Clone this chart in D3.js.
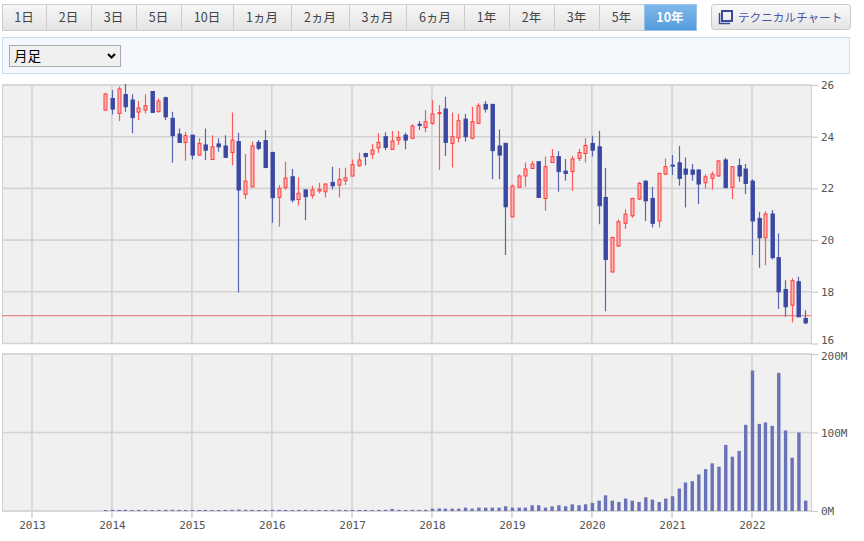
<!DOCTYPE html>
<html><head><meta charset="utf-8">
<script src="https://cdn.jsdelivr.net/npm/d3@7"></script>
<style>body{margin:0;background:#fff;}svg{display:block}</style>
</head><body><svg id="c" width="864" height="541"></svg>
<script>
// ---------- DATA ----------
const tabLabels = ["1日","2日","3日","5日","10日","1ヵ月","2ヵ月","3ヵ月","6ヵ月","1年","2年","3年","5年","10年"];
const activeTab = "10年";
const buttonLabel = "テクニカルチャート";
const selectLabel = "月足";
const yearLabels = ["2013","2014","2015","2016","2017","2018","2019","2020","2021","2022"];
const priceTicks = [16,18,20,22,24,26];
const volumeTicks = [0,100,200];
const refLine = 17.08;
const months = [
 "2013-12",
 "2014-01","2014-02","2014-03","2014-04","2014-05","2014-06","2014-07","2014-08","2014-09","2014-10","2014-11","2014-12",
 "2015-01","2015-02","2015-03","2015-04","2015-05","2015-06","2015-07","2015-08","2015-09","2015-10","2015-11","2015-12",
 "2016-01","2016-02","2016-03","2016-04","2016-05","2016-06","2016-07","2016-08","2016-09","2016-10","2016-11","2016-12",
 "2017-01","2017-02","2017-03","2017-04","2017-05","2017-06","2017-07","2017-08","2017-09","2017-10","2017-11","2017-12",
 "2018-01","2018-02","2018-03","2018-04","2018-05","2018-06","2018-07","2018-08","2018-09","2018-10","2018-11","2018-12",
 "2019-01","2019-02","2019-03","2019-04","2019-05","2019-06","2019-07","2019-08","2019-09","2019-10","2019-11","2019-12",
 "2020-01","2020-02","2020-03","2020-04","2020-05","2020-06","2020-07","2020-08","2020-09","2020-10","2020-11","2020-12",
 "2021-01","2021-02","2021-03","2021-04","2021-05","2021-06","2021-07","2021-08","2021-09","2021-10","2021-11","2021-12",
 "2022-01","2022-02","2022-03","2022-04","2022-05","2022-06","2022-07","2022-08","2022-09"];
const open = [
 25.03,25.48,24.90,25.63,25.42,24.95,25.03,25.75,24.97,25.51,24.71,24.10,23.78,
 24.06,23.29,23.68,23.12,23.72,23.64,23.39,23.81,21.77,22.06,23.78,23.85,
 23.39,21.65,22.03,22.45,21.57,21.94,21.73,21.90,21.87,22.23,22.13,22.30,
 22.48,22.88,23.35,23.32,23.57,24.00,23.51,23.87,24.06,23.94,24.48,24.35,
 24.52,24.90,25.07,23.74,23.96,24.68,23.94,24.52,25.25,25.25,23.64,23.74,
 20.90,22.04,22.48,22.77,23.03,21.61,23.00,23.23,22.67,22.65,23.16,23.35,
 23.74,23.61,21.65,18.77,19.77,20.65,20.94,21.59,22.28,21.61,20.74,22.55,
 22.90,22.99,22.75,22.71,22.71,22.22,22.39,22.48,23.10,22.04,22.88,22.75,
 22.28,20.84,20.09,21.01,19.32,18.09,17.48,18.39,16.97];
const high = [
 25.70,25.81,25.94,26.04,25.64,25.38,25.64,25.77,25.48,25.55,24.97,24.32,24.19,
 24.08,23.94,24.32,24.06,23.94,24.06,24.94,24.15,23.33,23.81,23.87,24.26,
 23.42,22.13,23.03,22.75,22.43,21.97,22.10,22.22,22.19,22.84,22.80,22.80,
 23.12,23.38,23.38,23.72,24.13,24.17,24.22,24.22,24.15,24.48,24.61,25.03,
 25.42,25.23,25.55,24.94,24.88,24.88,25.16,25.29,25.38,25.27,24.28,23.78,
 22.15,22.54,23.00,23.06,23.06,23.23,23.52,23.45,23.14,23.26,23.52,23.94,
 24.04,24.23,22.80,20.13,20.80,21.19,21.64,22.26,22.32,22.06,22.61,23.16,
 23.29,23.64,23.20,22.94,22.74,22.55,22.65,23.10,23.19,22.86,23.16,22.94,
 22.35,21.10,21.12,21.16,20.26,18.45,18.52,18.58,17.29];
const low = [
 25.00,24.86,24.61,24.97,24.13,24.65,24.90,24.92,24.94,24.65,22.99,23.76,23.07,
 23.12,23.25,23.10,23.10,23.42,23.18,22.90,17.97,21.59,22.04,23.48,22.78,
 20.67,20.52,21.95,21.45,21.34,20.77,21.61,21.81,21.65,21.96,21.65,22.13,
 22.46,22.84,22.90,23.14,23.38,23.48,23.50,23.68,23.51,23.90,24.26,24.17,
 24.45,22.71,23.25,22.81,23.78,23.81,23.90,24.48,24.94,22.35,22.35,19.42,
 20.88,22.02,22.06,22.75,21.63,21.14,23.00,21.87,22.30,21.91,23.06,23.00,
 23.23,20.61,17.25,18.74,19.74,20.43,20.86,21.55,20.74,20.49,20.49,22.52,
 22.52,22.10,21.26,22.30,21.39,22.00,21.96,22.45,22.00,21.59,22.26,21.78,
 19.42,18.93,19.03,19.25,17.33,17.03,16.81,17.03,16.74];
const close = [
 25.65,25.07,25.85,25.16,24.74,25.11,25.20,24.94,25.38,24.77,24.04,23.78,24.04,
 23.29,23.74,23.48,23.61,23.61,23.20,23.87,21.94,22.28,23.64,23.55,22.81,
 21.64,22.00,22.40,21.55,21.81,21.68,21.94,21.96,22.17,22.10,22.35,22.41,
 22.92,23.10,23.23,23.48,23.78,23.59,23.83,23.97,23.87,24.41,24.44,24.58,
 24.88,24.93,23.78,24.00,24.62,24.00,24.58,25.20,25.07,23.46,23.29,21.29,
 22.09,22.48,22.75,22.94,21.65,22.84,23.23,22.65,22.58,23.14,23.39,23.66,
 23.48,21.33,19.25,20.10,20.71,21.00,21.61,22.19,21.52,20.65,22.58,22.84,
 22.86,22.39,22.55,22.55,22.17,22.45,22.55,23.06,22.03,22.84,22.48,22.19,
 20.74,20.09,21.01,19.32,18.00,17.42,18.43,17.03,16.80];
const volume = [ // millions
 1.3,1.5,1.4,1.5,1.3,1.4,1.4,1.3,1.4,1.5,1.6,1.4,1.3,
 1.4,1.3,1.4,1.3,1.3,1.4,1.5,1.8,1.5,1.4,1.3,1.4,
 1.6,1.5,1.4,1.3,1.4,1.5,1.3,1.4,1.3,1.4,1.5,1.4,
 1.4,1.3,1.4,1.3,1.4,1.5,2.6,1.4,1.3,1.5,1.4,1.5,
 3.0,3.2,3.0,3.0,3.0,4.3,3.0,4.3,4.3,4.3,4.3,6.0,
 4.3,4.3,4.3,7.3,7.3,4.3,6.0,7.3,6.0,8.5,7.3,8.5,
 10.3,13.2,20.0,13.2,11.5,15.8,13.2,11.5,17.5,14.5,11.5,15.8,
 18.8,28.6,36.3,38.0,46.6,53.4,60.7,56.4,84.2,69.2,76.5,109.8,
 179,111,112.8,108.5,176,102.6,67.9,100,13.2];

// ---------- LAYOUT ----------
const svg = d3.select("#c");
const defs = svg.append("defs");
const CJK = "'Noto Sans CJK JP','Noto Sans',sans-serif";
const MONO = "'DejaVu Sans Mono',monospace";

function grad(id, c1, c2){
  const g = defs.append("linearGradient").attr("id",id).attr("x1",0).attr("y1",0).attr("x2",0).attr("y2",1);
  g.append("stop").attr("offset","0%").attr("stop-color",c1);
  g.append("stop").attr("offset","100%").attr("stop-color",c2);
}
grad("tabG","#f7f7f7","#e3e3e3");
grad("tabA","#80b8ea","#539bdc");
grad("btnG","#fafafa","#e4e4e4");

// tabs
const tabEdges = [2,46,91,136,181,233,291,349,406,464,509,554,599,644,696];
const tabs = svg.append("g");
tabLabels.forEach((t,i)=>{
  const x0 = tabEdges[i], x1 = tabEdges[i+1];
  const act = t===activeTab;
  tabs.append("rect").attr("x",x0+0.5).attr("y",4.5).attr("width",x1-x0).attr("height",26)
    .attr("fill",act?"url(#tabA)":"url(#tabG)").attr("stroke",act?"#9cc4ea":"#cccccc");
  tabs.append("text").attr("x",(x0+x1)/2).attr("y",22).attr("text-anchor","middle")
    .attr("font-family",CJK).attr("font-size",12.5).attr("font-weight",act?"bold":"normal")
    .attr("fill",act?"#ffffff":"#444").text(t);
});

// technical chart button
svg.append("rect").attr("x",711.5).attr("y",4.5).attr("width",139).attr("height",25).attr("rx",3)
  .attr("fill","url(#btnG)").attr("stroke","#c8c8c8");
svg.append("rect").attr("x",722).attr("y",11).attr("width",10).attr("height",10).attr("fill","none")
  .attr("stroke","#3d4a9c").attr("stroke-width",2);
svg.append("path").attr("d","M719.5,13 V23.5 H730").attr("fill","none").attr("stroke","#3d4a9c").attr("stroke-width",1.5);
svg.append("text").attr("x",738).attr("y",22).attr("font-family",CJK).attr("font-size",11.6)
  .attr("fill","#4a55a8").text(buttonLabel);

// option panel
svg.append("rect").attr("x",2.5).attr("y",37.5).attr("width",847).attr("height",36)
  .attr("fill","#f4f8fc").attr("stroke","#c6dcee");
svg.append("rect").attr("x",9.5).attr("y",45.5).attr("width",111).attr("height",21)
  .attr("fill","#f0f0f0").attr("stroke","#ababab");
svg.append("text").attr("x",14).attr("y",61).attr("font-family",CJK).attr("font-size",13.5)
  .attr("fill","#000").text(selectLabel);
svg.append("path").attr("d","M108,54 L111.5,57.5 L115,54").attr("fill","none").attr("stroke","#000").attr("stroke-width",2);

// ---------- CHART ----------
const X0=2, X1=811, PT=85, PB=343.5, VT=354, VB=511;
const parseM = d3.timeParse("%Y-%m");
const dates = months.map(parseM);
const yearDates = yearLabels.map(s=>parseM(s+"-01"));
const x = d3.scaleTime().domain([new Date(2013,0,1), new Date(2022,0,1)]).range([32,752]);
const y = d3.scaleLinear().domain([16,26]).range([PB,PT]);
const yv = d3.scaleLinear().domain([0,200]).range([VB,VT]);

defs.append("clipPath").attr("id","pclip").append("rect").attr("x",X0).attr("y",PT-2).attr("width",X1-X0).attr("height",PB-PT+3);

// plot backgrounds
svg.append("rect").attr("x",X0+0.5).attr("y",PT).attr("width",X1-X0).attr("height",PB-PT).attr("fill","#f0f0f0").attr("stroke","#cfcfcf");
svg.append("rect").attr("x",X0+0.5).attr("y",VT).attr("width",X1-X0).attr("height",VB-VT).attr("fill","#f0f0f0").attr("stroke","#cfcfcf");

const grid = svg.append("g").attr("stroke","#d3d3d3").attr("stroke-width",1.6);
// vertical grid
yearDates.forEach(d=>{
  grid.append("line").attr("x1",x(d)).attr("x2",x(d)).attr("y1",PT).attr("y2",PB);
  grid.append("line").attr("x1",x(d)).attr("x2",x(d)).attr("y1",VT).attr("y2",VB+7);
});
priceTicks.forEach(v=>grid.append("line").attr("x1",X0).attr("x2",X1).attr("y1",y(v)).attr("y2",y(v)));
volumeTicks.forEach(v=>grid.append("line").attr("x1",X0).attr("x2",X1).attr("y1",yv(v)).attr("y2",yv(v)));

// right axes
const pAxis = d3.axisRight(y).tickValues(priceTicks).tickSize(7).tickPadding(3).tickFormat(d3.format("d"));
const vAxis = d3.axisRight(yv).tickValues(volumeTicks).tickSize(7).tickPadding(3).tickFormat(d=>d+"M");
const xAxis = d3.axisBottom(x).tickValues(yearDates).tickSize(0).tickPadding(5).tickFormat(d3.timeFormat("%Y"));
function styleAxis(g){
  g.select(".domain").remove();
  g.selectAll(".tick line").attr("stroke","#cccccc").attr("stroke-width",1.2);
  g.selectAll("text").attr("font-family",MONO).attr("font-size",11).attr("fill","#555");
}
const pg = svg.append("g").attr("transform",`translate(${X1},0)`).call(pAxis).call(styleAxis);
pg.selectAll(".tick text").filter(d=>d===16).attr("y",-3.5);
const vg = svg.append("g").attr("transform",`translate(${X1},0)`).call(vAxis).call(styleAxis);
vg.selectAll(".tick text").filter(d=>d===200).attr("y",1.5);
svg.append("g").attr("transform",`translate(0,${VB+5})`).call(xAxis).call(styleAxis);

// reference line
svg.append("line").attr("x1",X0).attr("x2",X1).attr("y1",y(refLine)).attr("y2",y(refLine))
  .attr("stroke","#e08a8a").attr("stroke-width",1.2);

// candles
const data = dates.map((d,i)=>({d,o:open[i],h:high[i],l:low[i],c:close[i],v:volume[i]}));
const cg = svg.append("g").attr("clip-path","url(#pclip)");
const cand = cg.selectAll("g").data(data).join("g");
cand.append("line")
  .attr("x1",d=>Math.round(x(d.d))+0.5).attr("x2",d=>Math.round(x(d.d))+0.5)
  .attr("y1",d=>y(d.h)).attr("y2",d=>y(d.l))
  .attr("stroke",d=>d.c>=d.o?"#ff5a5a":"#5a65b0").attr("stroke-width",1.2);
cand.append("rect")
  .attr("x",d=>Math.round(x(d.d))-1)
  .attr("width",d=>d.c>=d.o?3:3.4)
  .attr("y",d=>y(Math.max(d.o,d.c)))
  .attr("height",d=>Math.max(1,Math.abs(y(d.o)-y(d.c))))
  .attr("fill",d=>d.c>=d.o?"#ffb4b4":"#3b49a3")
  .attr("stroke",d=>d.c>=d.o?"#ff3c3c":"#3b49a3").attr("stroke-width",1);

// volume bars
svg.append("g").selectAll("rect").data(data).join("rect")
  .attr("x",d=>x(d.d)-1.2).attr("width",3.4)
  .attr("y",d=>yv(d.v)).attr("height",d=>VB-yv(d.v))
  .attr("fill","#6a72b8");
</script></body></html>
